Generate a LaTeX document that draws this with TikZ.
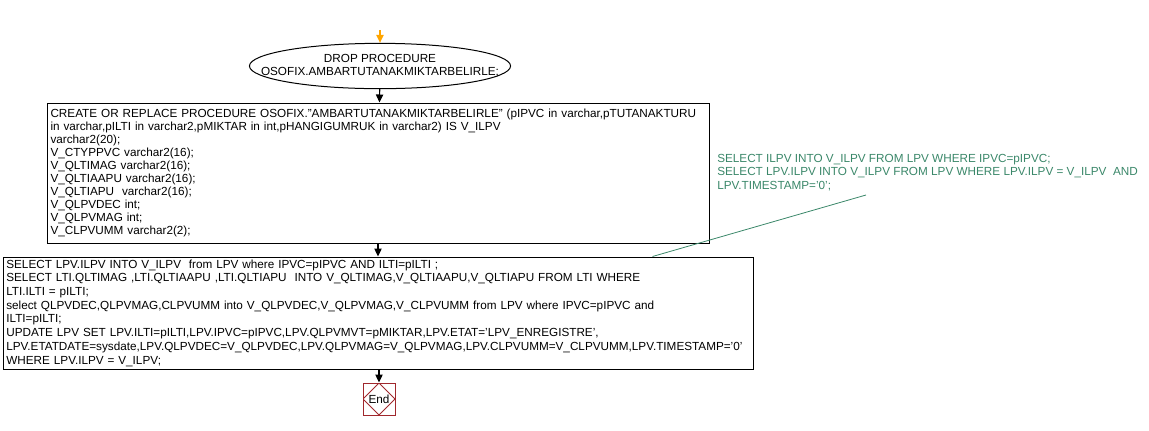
\documentclass[tikz,border=0pt]{standalone}
\usepackage{fontspec}
\setmainfont{Liberation Sans}
\usetikzlibrary{arrows.meta,positioning,shapes.geometric,calc}
\definecolor{notegreen}{RGB}{58,135,105}
\definecolor{endred}{RGB}{160,40,45}
\definecolor{startorange}{RGB}{255,165,0}

\begin{document}
\begin{tikzpicture}[
  x=0.75pt, y=-0.75pt,
  terminal/.style={
    ellipse, draw=black, line width=0.75pt, inner xsep=-20pt, inner ysep=0pt,
    minimum width=192pt, minimum height=34pt, align=center,
    font=\fontsize{8.8}{9.75}\selectfont
  },
  codebox/.style={
    rectangle, draw=black, line width=0.75pt, inner xsep=2.5pt, inner ysep=0pt,
    align=left, font=\fontsize{8.8}{9.75}\selectfont
  },
  endbox/.style={
    rectangle, draw=endred, line width=0.75pt, minimum size=24pt, inner sep=0pt,
    font=\fontsize{8.8}{9.75}\selectfont,
    path picture={
      \draw[endred, line width=0.75pt]
        (path picture bounding box.north) -- (path picture bounding box.east) --
        (path picture bounding box.south) -- (path picture bounding box.west) -- cycle;
    }
  },
  note/.style={
    align=left, text=notegreen, inner sep=0pt, anchor=north west,
    font=\fontsize{8.8}{10}\selectfont
  },
  arr/.style={-{Triangle[length=6pt,width=5.5pt]}, line width=0.9pt, black},
]
\useasboundingbox (0,0) rectangle (1149,430);

% ── Nodes ──
\coordinate (start) at (380,30);

\node[terminal] (drop) at (380,66)
  {DROP PROCEDURE\\OSOFIX.AMBARTUTANAKMIKTARBELIRLE;};

\node[codebox, minimum width=497pt, minimum height=105pt, text width=492pt] (create) at (378.5,173)
  {CREATE OR REPLACE PROCEDURE OSOFIX."AMBARTUTANAKMIKTARBELIRLE" (pIPVC in varchar,pTUTANAKTURU\\
   in varchar,pILTI in varchar2,pMIKTAR in int,pHANGIGUMRUK in varchar2) IS V\_ILPV\\
   varchar2(20);\\
   V\_CTYPPVC varchar2(16);\\
   V\_QLTIMAG varchar2(16);\\
   V\_QLTIAAPU varchar2(16);\\
   V\_QLTIAPU\ \ varchar2(16);\\
   V\_QLPVDEC int;\\
   V\_QLPVMAG int;\\
   V\_CLPVUMM varchar2(2);};

\node[codebox, minimum width=562.5pt, minimum height=84pt, text width=557.5pt,
      font=\fontsize{8.8}{10.3}\selectfont] (update) at (378,313)
  {SELECT LPV.ILPV INTO V\_ILPV\ \ from LPV where IPVC=pIPVC AND ILTI=pILTI ;\\
   SELECT LTI.QLTIMAG ,LTI.QLTIAAPU ,LTI.QLTIAPU\ \ INTO V\_QLTIMAG,V\_QLTIAAPU,V\_QLTIAPU FROM LTI WHERE\\
   LTI.ILTI = pILTI;\\
   select QLPVDEC,QLPVMAG,CLPVUMM into V\_QLPVDEC,V\_QLPVMAG,V\_CLPVUMM from LPV where IPVC=pIPVC and\\
   ILTI=pILTI;\\
   UPDATE LPV SET LPV.ILTI=pILTI,LPV.IPVC=pIPVC,LPV.QLPVMVT=pMIKTAR,LPV.ETAT='LPV\_ENREGISTRE',\\
   LPV.ETATDATE=sysdate,LPV.QLPVDEC=V\_QLPVDEC,LPV.QLPVMAG=V\_QLPVMAG,LPV.CLPVUMM=V\_CLPVUMM,LPV.TIMESTAMP='0'\\
   WHERE LPV.ILPV = V\_ILPV;};

\node[endbox] (stop) at (379,399) {End};

\node[note] (comment) at (717,154)
  {SELECT ILPV INTO V\_ILPV FROM LPV WHERE IPVC=pIPVC;\\
   SELECT LPV.ILPV INTO V\_ILPV FROM LPV WHERE LPV.ILPV = V\_ILPV\ \ AND\\
   LPV.TIMESTAMP='0';};
\coordinate (notetip) at (866,195);

% ── Edges ──
\draw[arr, startorange] (start) -- (drop);
\draw[arr] (drop) -- (create);
\draw[arr] (create.south -| update.north) -- (update);
\draw[arr] (update.south -| stop.north) -- (stop);
\draw[notegreen, line width=0.6pt] (notetip) -- ($(update.north west)+(650,0)$);
\end{tikzpicture}
\end{document}
